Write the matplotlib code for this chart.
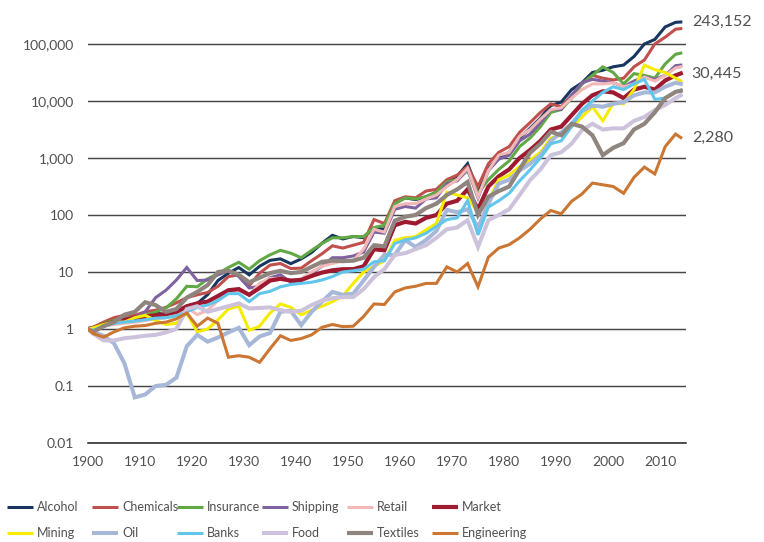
import matplotlib
matplotlib.use('Agg')
import matplotlib.pyplot as plt
from matplotlib.lines import Line2D
from matplotlib.ticker import FixedLocator

plt.rcParams['font.family'] = ['Lato', 'DejaVu Sans']

YEARS = [1900, 1901] + list(range(1903, 2014, 2)) + [2014]

# index values (1900 = 1)
ALCOHOL = [
    1, 1.05, 1.2, 1.32, 1.41, 1.51, 1.66, 1.91, 1.78, 2.0,
    2.5, 2.8, 4.0, 7.1, 9.5, 12, 8.9, 12.6, 16, 17,
    14, 17, 22, 32, 44, 38, 42, 40, 60, 56,
    160, 200, 186, 209, 251, 398, 479, 794, 263, 661,
    1000, 1260, 2240, 3310, 5010, 8320, 9550, 15850, 20890, 31620,
    34670, 39810, 42660, 60260, 100000, 120200, 199500, 239900, 243152,
]
CHEMICALS = [
    1, 1.07, 1.32, 1.58, 1.74, 1.74, 2.0, 2.14, 2.4, 2.88,
    3.55, 3.98, 4.37, 5.62, 8.32, 8.91, 5.75, 9.55, 13.2, 14.1,
    11.5, 11.7, 15.8, 20.9, 28.8, 26.3, 29.5, 33.1, 83.2, 70.8,
    178, 209, 200, 263, 282, 417, 501, 708, 316, 794,
    1260, 1585, 2820, 4170, 6310, 8910, 7940, 12590, 19950, 28180,
    25120, 23440, 25120, 39810, 52480, 100000, 131800, 182000, 186200,
]
INSURANCE = [
    1, 1.05, 1.26, 1.41, 1.51, 1.58, 1.74, 2.0, 2.34, 3.39,
    5.62, 5.5, 7.59, 9.33, 12.0, 14.8, 11.2, 15.8, 20.0, 24.0,
    21.4, 17.8, 24.0, 31.6, 39.8, 39.8, 41.7, 41.7, 60.3, 66.1,
    158, 200, 191, 209, 251, 380, 417, 603, 240, 417,
    631, 891, 1585, 2240, 3550, 6310, 7080, 11220, 19950, 28180,
    39810, 31620, 19950, 30200, 28180, 25120, 44670, 66070, 69180,
]
SHIPPING = [
    1, 0.95, 1.12, 1.26, 1.41, 1.58, 2.0, 3.55, 4.79, 7.24,
    12.0, 7.08, 7.24, 8.91, 10.5, 8.32, 5.25, 5.62, 7.94, 8.91,
    6.61, 7.08, 9.33, 12.6, 17.8, 17.8, 19.1, 22.4, 50.1, 47.9,
    126, 141, 132, 191, 200, 355, 398, 631, 200, 603,
    955, 1120, 1995, 2630, 4170, 7080, 7080, 12590, 20890, 23990,
    22390, 20890, 17780, 22390, 26300, 23990, 28180, 41690, 42660,
]
RETAIL = [
    1, 1.0, 1.12, 1.2, 1.26, 1.32, 1.41, 1.51, 1.58, 1.78,
    2.4, 1.78, 2.14, 3.16, 4.47, 4.79, 3.98, 6.31, 7.76, 7.59,
    7.08, 7.59, 10, 12.6, 14.1, 15.8, 15.8, 25.1, 56.2, 50.1,
    141, 158, 158, 191, 224, 316, 417, 661, 209, 603,
    1120, 1260, 2400, 3160, 4790, 7080, 7590, 11220, 15850, 19950,
    19950, 20890, 17780, 19950, 26300, 22390, 28180, 38020, 39810,
]
MARKET = [
    1, 1.05, 1.2, 1.32, 1.45, 1.58, 1.66, 1.74, 1.82, 2.0,
    2.51, 2.82, 3.02, 3.8, 4.79, 5.01, 3.98, 5.25, 7.08, 7.59,
    7.08, 7.24, 8.51, 9.77, 10.7, 11.2, 11.2, 12.6, 25.1, 24.0,
    66.1, 75.9, 70.8, 89.1, 100, 158, 178, 282, 126, 316,
    479, 631, 1000, 1380, 1995, 3160, 3550, 5620, 8910, 12590,
    14790, 14130, 11220, 15850, 17780, 15850, 22910, 28180, 30445,
]
MINING = [
    1, 1.05, 1.2, 1.32, 1.32, 1.58, 1.74, 1.41, 1.2, 1.26,
    1.91, 0.89, 1.0, 1.45, 2.24, 2.51, 0.95, 1.12, 1.91, 2.75,
    2.4, 1.78, 2.14, 2.51, 3.02, 3.8, 6.31, 10, 12.6, 15.8,
    36, 39.8, 41.7, 55.0, 70.8, 251, 224, 200, 112, 178,
    417, 501, 708, 912, 1260, 2240, 2510, 3550, 5250, 7940,
    4470, 9120, 8910, 15850, 42660, 35480, 31620, 25120, 22390,
]
OIL = [
    1, 0.89, 0.76, 0.56, 0.25, 0.063, 0.071, 0.1, 0.105, 0.14,
    0.5, 0.79, 0.6, 0.71, 0.87, 1.05, 0.52, 0.74, 0.85, 2.0,
    2.09, 1.17, 2.0, 3.02, 4.47, 3.98, 4.17, 7.08, 12.3, 20,
    20, 36.3, 27.5, 36.3, 52.5, 123, 112, 126, 60.3, 158,
    355, 417, 603, 794, 1120, 1995, 2820, 3980, 6610, 8320,
    7940, 8910, 9550, 12590, 14130, 14130, 17780, 20890, 19950,
]
BANKS = [
    1, 0.95, 1.12, 1.26, 1.32, 1.38, 1.45, 1.55, 1.58, 1.70,
    2.0, 2.4, 2.63, 3.16, 4.17, 4.17, 3.02, 4.17, 4.57, 5.5,
    6.03, 6.31, 6.61, 7.24, 8.32, 10, 10.5, 11.2, 15.1, 15.8,
    31.6, 36.3, 39.8, 47.9, 63.1, 83.2, 89.1, 178, 44.7, 138,
    178, 240, 398, 617, 1000, 1778, 1995, 3550, 6920, 10000,
    14130, 17780, 15850, 19950, 23990, 10720, 11220, 14450, 15490,
]
FOOD = [
    1, 0.83, 0.63, 0.63, 0.69, 0.72, 0.76, 0.79, 0.87, 1.0,
    2.24, 2.51, 2.0, 2.24, 2.51, 2.82, 2.29, 2.34, 2.4, 2.14,
    2.0, 2.09, 2.63, 3.16, 3.47, 3.63, 3.63, 5.01, 8.13, 11.2,
    20, 21.4, 25.1, 29.5, 39.8, 56.2, 60.3, 81.3, 27.5, 81.3,
    100, 126, 224, 407, 631, 1120, 1260, 1780, 3090, 3980,
    3160, 3310, 3310, 4470, 5250, 6920, 8510, 11220, 12590,
]
TEXTILES = [
    1, 0.89, 1.12, 1.32, 1.78, 2.0, 2.95, 2.63, 2.0, 2.24,
    3.55, 4.47, 5.89, 10, 10.5, 8.91, 6.61, 7.94, 9.55, 10.5,
    9.55, 10, 12.3, 15.1, 15.8, 15.5, 15.8, 17.8, 29.5, 28.2,
    79.4, 93.3, 100, 132, 158, 224, 282, 380, 100, 209,
    263, 316, 631, 1230, 1780, 2880, 2510, 3980, 3550, 2510,
    1120, 1510, 1820, 3160, 3980, 6310, 11220, 14450, 15140,
]
ENGINEERING = [
    1, 0.83, 0.72, 0.89, 1.05, 1.12, 1.15, 1.26, 1.32, 1.51,
    1.91, 1.12, 1.55, 1.26, 0.32, 0.34, 0.32, 0.26, 0.45, 0.76,
    0.63, 0.68, 0.79, 1.07, 1.2, 1.1, 1.12, 1.66, 2.75, 2.69,
    4.47, 5.25, 5.62, 6.31, 6.31, 12.3, 10, 14.1, 5.5, 18.2,
    26.3, 30.2, 39.8, 56.2, 85.1, 120, 105, 174, 234, 363,
    339, 316, 240, 457, 692, 525, 1585, 2630, 2280,
]

SERIES = [
    ('Alcohol', ALCOHOL, '#17375E', 2.2),
    ('Chemicals', CHEMICALS, '#C0504D', 2.2),
    ('Insurance', INSURANCE, '#62A844', 2.2),
    ('Shipping', SHIPPING, '#7F62A0', 2.2),
    ('Retail', RETAIL, '#F0B8B6', 2.2),
    ('Market', MARKET, '#9E1A30', 3.0),
    ('Mining', MINING, '#F5EC00', 2.2),
    ('Oil', OIL, '#A6B7D8', 2.9),
    ('Banks', BANKS, '#62C6EC', 2.2),
    ('Food', FOOD, '#CDC2DC', 2.9),
    ('Textiles', TEXTILES, '#8F857E', 3.0),
    ('Engineering', ENGINEERING, '#CB7632', 2.2),
]

END_LABELS = [(243152, '243,152'), (30445, '30,445'), (2280, '2,280')]

Y_TICKS = [0.01, 0.1, 1, 10, 100, 1000, 10000, 100000]
Y_LABELS = ['0.01', '0.1', '1', '10', '100', '1,000', '10,000', '100,000']
X_TICKS = list(range(1900, 2011, 10))

TEXT_COLOR = '#505050'


def main():
    fig = plt.figure(figsize=(7.64, 5.42), dpi=100)
    ax = fig.add_axes([88 / 764, 99 / 542, 598 / 764, 441.75 / 542])

    for name, vals, color, lw in SERIES:
        ax.plot(YEARS, vals, color=color, linewidth=lw, solid_joinstyle='miter', zorder=3)

    ax.set_yscale('log')
    ax.set_ylim(0.01, 10 ** 5.75)
    ax.set_xlim(1900, 2015)
    ax.yaxis.set_major_locator(FixedLocator(Y_TICKS))
    ax.yaxis.set_minor_locator(FixedLocator([]))
    ax.set_yticklabels(Y_LABELS)
    ax.set_xticks(X_TICKS)
    ax.tick_params(axis='y', length=0, pad=10, labelsize=10, labelcolor=TEXT_COLOR)
    ax.tick_params(axis='x', length=0, pad=9, labelsize=10, labelcolor=TEXT_COLOR)

    ax.grid(axis='y', color='#454545', linewidth=1.05, zorder=1)
    ax.set_axisbelow(True)
    for side in ['left', 'right', 'top']:
        ax.spines[side].set_visible(False)
    ax.spines['bottom'].set_color('#222222')
    ax.spines['bottom'].set_linewidth(1.1)

    for val, txt in END_LABELS:
        ax.text(2016.1, val, txt, ha='left', va='center', fontsize=11.5,
                color=TEXT_COLOR, clip_on=False)

    # legend laid out on a fixed grid like the original
    for i, (name, vals, color, lw) in enumerate(SERIES):
        row, col = divmod(i, 6)
        x0 = 7 + 85 * col
        y = 1 - (507 + 26 * row) / 542
        fig.add_artist(Line2D([x0 / 764, (x0 + 26) / 764], [y, y], color=color,
                              linewidth=lw, solid_capstyle='butt'))
        fig.text((x0 + 30) / 764, y, name, ha='left', va='center', fontsize=9,
                 color=TEXT_COLOR)

    fig.savefig('out.png', dpi=100)
    plt.close(fig)


if __name__ == '__main__':
    main()
